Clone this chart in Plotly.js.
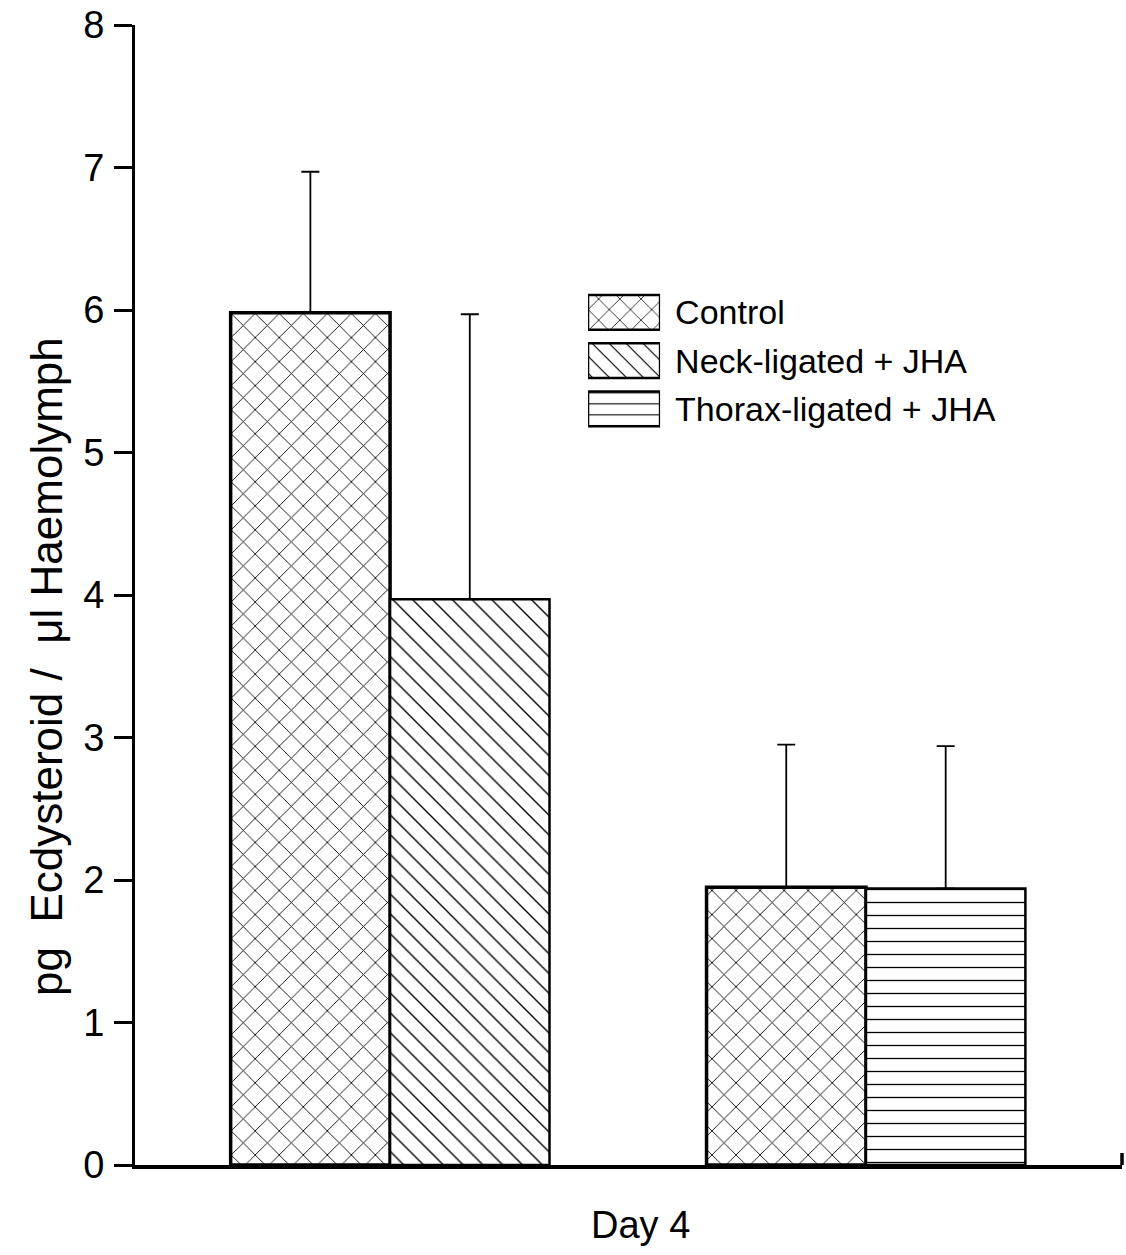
<!DOCTYPE html>
<html>
<head>
<meta charset="utf-8">
<script src="https://cdn.plot.ly/plotly-3.0.1.min.js"></script>
<style>html,body{margin:0;padding:0;background:#fff;}#chart{width:1126px;height:1255px;}</style>
</head>
<body>
<div id="chart"></div>
<script>
// ---- data ----
const groups = ["Day 4 (a)", "Day 4 (b)"];
const seriesNames = ["Control", "Neck-ligated + JHA", "Thorax-ligated + JHA"];
const controlValues = [5.98, 1.95];
const controlErrors = [0.99, 1.0];
const neckValues = [3.97];
const neckErrors = [2.0];
const thoraxValues = [1.94];
const thoraxErrors = [1.0];
const yTickValues = [0, 1, 2, 3, 4, 5, 6, 7, 8];
const yTitle = "pg  Ecdysteroid /  \u03BCl Haemolymph";
const xTitle = "Day 4";

const FONT = "Liberation Sans, Arial, Helvetica, sans-serif";
const patterns = {
  "Control": {shape: "x", size: 17, solidity: 0.1},
  "Neck-ligated + JHA": {shape: "\\", size: 14, solidity: 0.1},
  "Thorax-ligated + JHA": {shape: "-", size: 13, solidity: 0.1}
};
function pat(name) {
  const p = patterns[name];
  return {shape: p.shape, size: p.size, solidity: p.solidity, fgcolor: "#000", bgcolor: "#fff", fillmode: "replace"};
}
function errs(arr) {
  return {type: "data", array: arr, arrayminus: arr.map(() => 0), symmetric: false,
          color: "#000", thickness: 1.8, width: 9, visible: true};
}

const traces = [
  {type: "bar", name: seriesNames[0], x: groups, y: controlValues, offsetgroup: "a",
   error_y: errs(controlErrors),
   marker: {color: "#fff", pattern: pat(seriesNames[0]), line: {color: "#000", width: 3.5}},
   showlegend: false, hoverinfo: "skip"},
  {type: "bar", name: seriesNames[1], x: [groups[0]], y: neckValues, offsetgroup: "b",
   error_y: errs(neckErrors),
   marker: {color: "#fff", pattern: pat(seriesNames[1]), line: {color: "#000", width: 2.5}},
   showlegend: false, hoverinfo: "skip"},
  {type: "bar", name: seriesNames[2], x: [groups[1]], y: thoraxValues, offsetgroup: "b",
   error_y: errs(thoraxErrors),
   marker: {color: "#fff", pattern: pat(seriesNames[2]), line: {color: "#000", width: 2.5}},
   showlegend: false, hoverinfo: "skip"},
  // legend drawn as an inset of patterned swatches
  {type: "bar", orientation: "h", xaxis: "x2", yaxis: "y2",
   y: seriesNames, x: seriesNames.map(() => 1), width: 0.72,
   marker: {color: "#fff",
            pattern: {shape: seriesNames.map(n => patterns[n].shape),
                      size: seriesNames.map(n => patterns[n].size - 2),
                      solidity: 0.1, fgcolor: "#000", bgcolor: "#fff", fillmode: "replace"},
            line: {color: "#000", width: 2.5}},
   showlegend: false, hoverinfo: "skip"}
];

const layout = {
  width: 1126, height: 1255,
  margin: {l: 135, r: 4, t: 25, b: 90},
  paper_bgcolor: "#fff", plot_bgcolor: "#fff",
  font: {family: FONT, color: "#000"},
  showlegend: false,
  barmode: "group", bargap: 0.33, bargroupgap: 0,
  xaxis: {type: "category", range: [-0.536, 1.538], showline: true, linecolor: "#000", linewidth: 3.5,
          ticks: "", showticklabels: false, showgrid: false, zeroline: false, fixedrange: true},
  yaxis: {range: [0, 8], tickvals: yTickValues, ticks: "outside", ticklen: 18, tickwidth: 3, tickcolor: "#000",
          showline: true, linecolor: "#000", linewidth: 3, showgrid: false, zeroline: false,
          tickfont: {family: FONT, size: 38, color: "#000"}, ticklabelstandoff: 2, fixedrange: true},
  xaxis2: {domain: [0.459, 0.532], anchor: "y2", range: [0, 1], visible: false, fixedrange: true},
  yaxis2: {domain: [0.642, 0.769], anchor: "x2", type: "category", autorange: "reversed", side: "right",
           showline: false, ticks: "", showgrid: false, zeroline: false,
           tickfont: {family: FONT, size: 34, color: "#000"}, ticklabelstandoff: 14, fixedrange: true},
  annotations: [
    {text: yTitle, xref: "paper", yref: "paper", x: -0.089, y: 0.437, textangle: -90,
     xanchor: "center", yanchor: "middle", showarrow: false, font: {family: FONT, size: 44, color: "#000"}},
    {text: xTitle, xref: "paper", yref: "paper", x: 0.512, y: -0.0526,
     xanchor: "center", yanchor: "middle", showarrow: false, font: {family: FONT, size: 38, color: "#000"}}
  ],
  shapes: [
    {type: "line", xref: "paper", yref: "y", ysizemode: "pixel", yanchor: 0, x0: 1, x1: 1, y0: -13, y1: 12,
     line: {color: "#000", width: 3.5}},
    {type: "line", xref: "paper", yref: "y", ysizemode: "pixel", yanchor: 0, x0: 0, x1: 0, y0: -12, y1: 0,
     line: {color: "#000", width: 3}}
  ]
};

Plotly.newPlot("chart", traces, layout, {displayModeBar: false, staticPlot: true});
</script>
</body>
</html>
